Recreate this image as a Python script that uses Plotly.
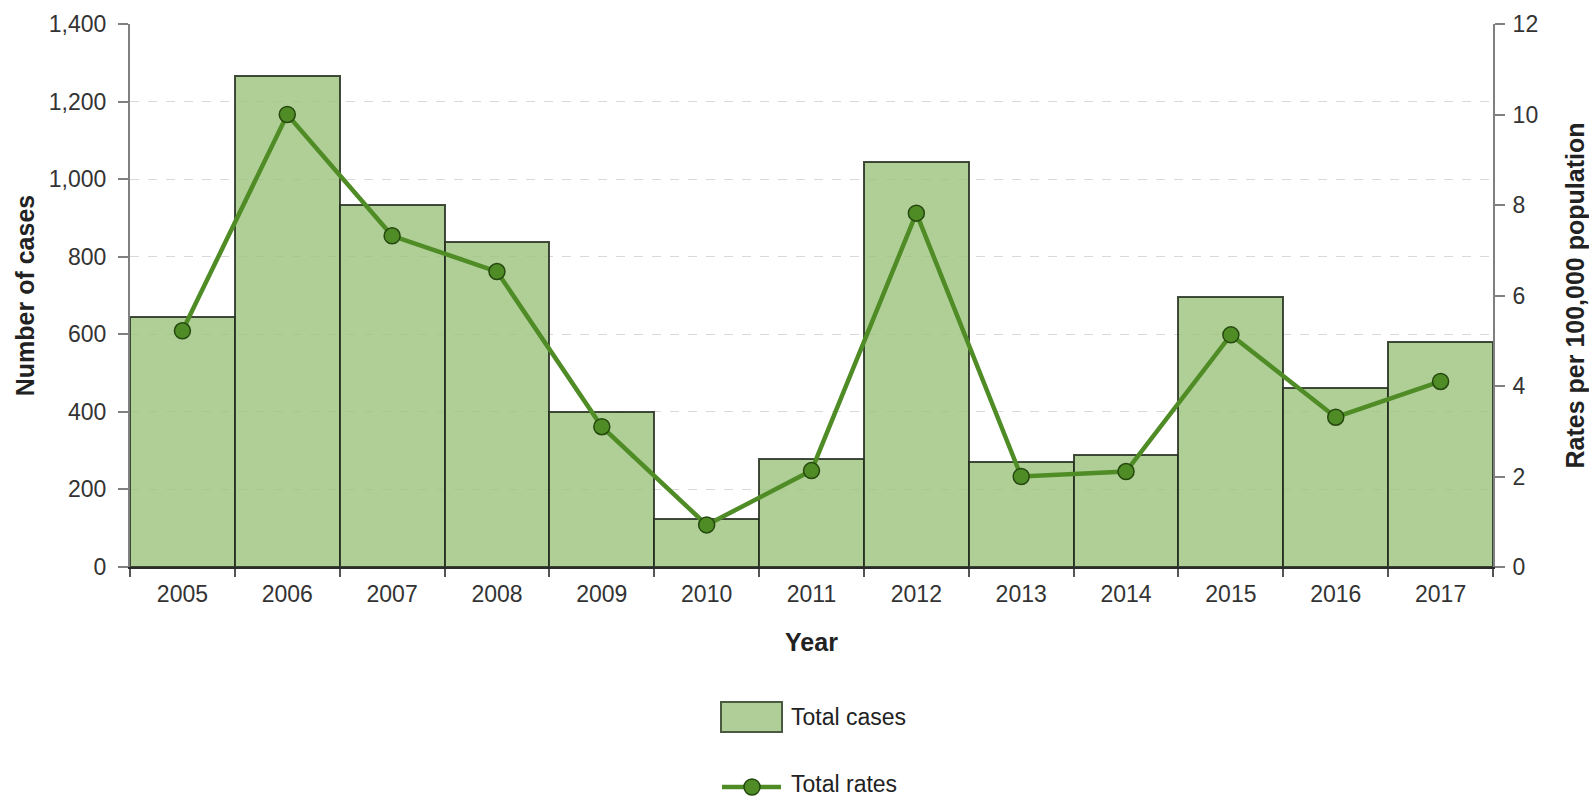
import plotly.graph_objects as go

years = ["2005", "2006", "2007", "2008", "2009", "2010", "2011",
         "2012", "2013", "2014", "2015", "2016", "2017"]
total_cases = [645, 1266, 933, 837, 400, 124, 278, 1043, 272, 288, 697, 461, 581]
total_rates = [5.22, 10.0, 7.32, 6.53, 3.10, 0.93, 2.13, 7.82, 2.0, 2.11, 5.13, 3.31, 4.10]

left_ticks = [0, 200, 400, 600, 800, 1000, 1200, 1400]
right_ticks = [0, 2, 4, 6, 8, 10, 12]

W, H = 1589, 799
L, R, T, B = 130, 96, 24, 232
PW, PH = W - L - R, H - T - B

def px(x):
    return (x - L) / PW

def py(y):
    return (H - B - y) / PH

FONT = "Liberation Sans, Arial, sans-serif"
BAR_FILL = "rgba(156,195,125,0.8)"
BAR_LINE = "rgba(35,45,30,0.85)"
LINE_COL = "#4f8c26"
MARK_LINE = "#24480e"

fig = go.Figure()
fig.add_trace(go.Bar(
    x=years, y=total_cases, name="Total cases", width=1.0,
    marker=dict(color=BAR_FILL, line=dict(color=BAR_LINE, width=2)),
    showlegend=False,
))
fig.add_trace(go.Scatter(
    x=years, y=total_rates, name="Total rates", yaxis="y2",
    mode="lines+markers",
    line=dict(color=LINE_COL, width=4.5),
    marker=dict(size=16, color=LINE_COL, line=dict(color=MARK_LINE, width=1.5)),
    showlegend=False,
))

tickfont = dict(family=FONT, size=23, color="#333333")
titlefont = dict(family=FONT, size=25, color="#222222", weight="bold")

fig.update_layout(
    width=W, height=H,
    margin=dict(l=L, r=R, t=T, b=B, autoexpand=False),
    paper_bgcolor="white", plot_bgcolor="white",
    bargap=0,
    xaxis=dict(
        type="category", tickson="boundaries", ticks="outside", ticklen=8,
        tickcolor="#555555", tickwidth=2, ticklabelstandoff=5,
        showline=True, linecolor="#2a2a2a", linewidth=2,
        showgrid=False, tickfont=tickfont,
        title=dict(text="Year", font=titlefont, standoff=28),
        range=[-0.5, 12.5],
    ),
    yaxis=dict(
        range=[0, 1400], tickvals=left_ticks,
        ticktext=[f"{v:,}" for v in left_ticks],
        ticks="outside", ticklen=10, tickcolor="#808080", tickwidth=2,
        ticklabelstandoff=7,
        showline=True, linecolor="#808080", linewidth=2,
        showgrid=True, gridcolor="#d9d9d9", griddash="dash", gridwidth=1,
        zeroline=False, tickfont=tickfont,
        title=dict(text="Number of cases", font=titlefont, standoff=7),
    ),
    yaxis2=dict(
        range=[0, 12], tickvals=right_ticks,
        overlaying="y", side="right",
        ticks="outside", ticklen=10, tickcolor="#808080", tickwidth=2,
        ticklabelstandoff=3,
        showline=True, linecolor="#808080", linewidth=2,
        showgrid=False, zeroline=False, tickfont=tickfont,
        title=dict(text="Rates per 100,000 population", font=titlefont, standoff=31),
    ),
)

# custom legend
shapes = [
    dict(type="rect", xref="paper", yref="paper",
         x0=px(721), x1=px(782), y0=py(702), y1=py(732),
         fillcolor="#b0cf98", line=dict(color="#4a5a40", width=2)),
    dict(type="line", xref="paper", yref="paper",
         x0=px(722), x1=px(781), y0=py(787), y1=py(787),
         line=dict(color=LINE_COL, width=4.5)),
    dict(type="circle", xref="paper", yref="paper",
         xsizemode="pixel", ysizemode="pixel",
         xanchor=px(752), yanchor=py(787), x0=-8, x1=8, y0=-8, y1=8,
         fillcolor=LINE_COL, line=dict(color=MARK_LINE, width=1.5)),
]
fig.update_layout(shapes=shapes)
legfont = dict(family=FONT, size=23, color="#222222")
fig.add_annotation(x=px(789), y=py(717), xref="paper", yref="paper",
                   text="Total cases", showarrow=False, xanchor="left",
                   yanchor="middle", font=legfont)
fig.add_annotation(x=px(789), y=py(784), xref="paper", yref="paper",
                   text="Total rates", showarrow=False, xanchor="left",
                   yanchor="middle", font=legfont)

fig.write_html("out.html")
